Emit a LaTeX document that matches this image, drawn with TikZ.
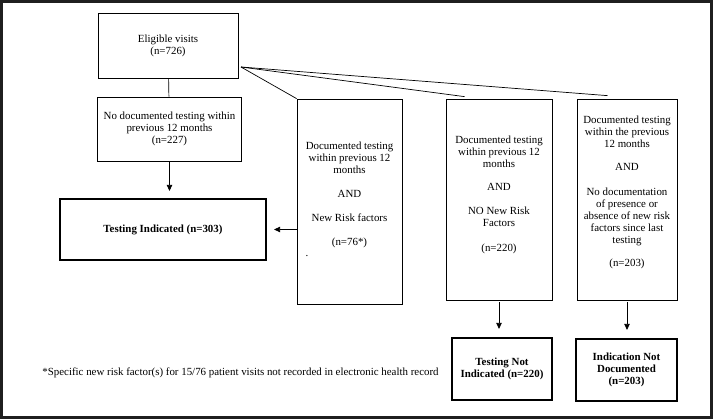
\documentclass[tikz,border=0pt]{standalone}
\usepackage{fontspec}
\setmainfont{Liberation Serif}
\usetikzlibrary{arrows.meta}
\tikzset{
  box/.style={draw, line width=0.7pt, inner sep=0pt, align=center},
  thickbox/.style={draw, line width=2.2pt, inner sep=0pt, align=center, font=\fontsize{10.9}{12}\selectfont\bfseries},
  txt/.style={align=center, inner sep=0pt},
  arr/.style={-{Triangle[length=6pt,width=5.5pt]}, line width=0.8pt},
}
\begin{document}
\begin{tikzpicture}[x=1pt, y=-1pt, font=\fontsize{10.9}{12}\selectfont]
    \useasboundingbox (0,0) rectangle (713,419);
    \draw[line width=3pt, black!88] (1.5,1.5) rectangle (711.5,417.5);

    % left column
    \node[box, minimum width=140, minimum height=65] (elig) at (168,45.5) {Eligible visits\\(n=726)};
    \node[box, minimum width=144, minimum height=64] (nodoc) at (169.5,129) {No documented testing within\\previous 12 months\\(n=227)};
    \node[thickbox, minimum width=206, minimum height=61] (indic) at (163,229.5) {Testing Indicated (n=303)};

    % the three tall boxes
    \node[box, minimum width=105, minimum height=205] (newrisk) at (349.5,201.5) {};
    \node[txt] (newrisktxt) at (349.5,195) {Documented testing\\within previous 12\\months\\[12pt]AND\\[12pt]New Risk factors\\[12pt](n=76*)};
    \node[txt] (dot) at (307,256) {.};
    \node[box, minimum width=106, minimum height=201] (norisk) at (499,199.5) {};
    \node[txt] (norisktxt) at (499,194.5) {Documented testing\\within previous 12\\months\\[11pt]AND\\[12pt]NO New Risk\\Factors\\[13pt](n=220)};
    \node[box, minimum width=100, minimum height=201] (nodocrisk) at (627,199.5) {};
    \node[txt] (nodocrisktxt) at (627,192) {Documented testing\\within the previous\\12 months\\[11pt]AND\\[13pt]No documentation\\of presence or\\absence of new risk\\factors since last\\testing\\[11pt](n=203)};

    % outcomes
    \node[thickbox, minimum width=100, minimum height=62] (notind) at (502,369) {Testing Not\\Indicated (n=220)};
    \node[thickbox, minimum width=101, minimum height=62] (notdoc) at (626.5,370) {Indication Not\\Documented\\(n=203)};
    \node[txt] (note) at (240.5,373) {*Specific new risk factor(s) for 15/76 patient visits not recorded in electronic health record};

    % connectors
    \coordinate (fan) at (241,67);
    \draw[line width=0.7pt] (elig) -- (nodoc);
    \draw[line width=0.7pt] (fan) -- (newrisk.north west); \draw[line width=0.7pt] (fan) -- ([xshift=19pt,yshift=2pt]norisk.north west); \draw[line width=0.7pt] (fan) -- ([xshift=31pt,yshift=3pt]nodocrisk.north west);
    \draw[arr, shorten >=7pt] (nodoc.south) -- (nodoc.south |- indic.north);
    \draw[arr, shorten >=7pt] (newrisk.west |- indic.east) -- (indic.east);
    \draw[arr, shorten <=2pt, shorten >=8pt] (norisk.south) -- (norisk.south |- notind.north);
    \draw[arr, shorten <=2pt, shorten >=8pt] (nodocrisk.south) -- (nodocrisk.south |- notdoc.north);
\end{tikzpicture}
\end{document}
